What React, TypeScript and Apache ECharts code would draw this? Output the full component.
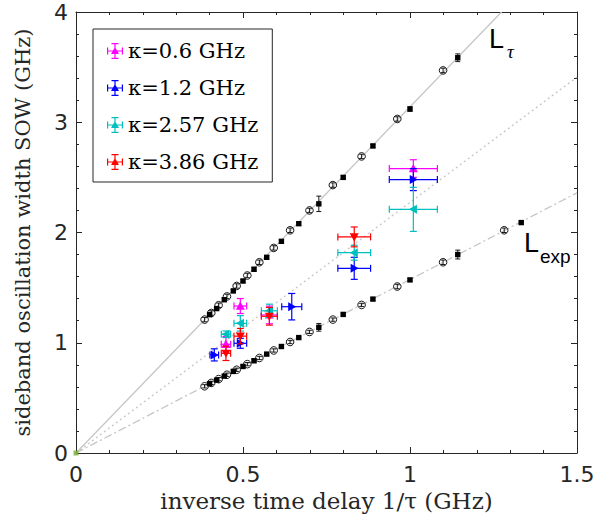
import React, { useEffect, useRef } from "react";
import * as echarts from "echarts";

// ---- reference lines (endpoints) ----
const lineTauX = [0, 1.274];
const lineTauY = [0, 4];
const lineMidX = [0, 1.5];
const lineMidY = [0, 3.41];
const lineExpX = [0, 1.5];
const lineExpY = [0, 2.36];

// ---- black data on L_tau ----
const tauCircX = [0.385, 0.405, 0.427, 0.452, 0.481, 0.513, 0.549, 0.592, 0.641, 0.699, 0.769, 0.855, 0.962, 1.099];
const tauCircY = [1.21, 1.27, 1.34, 1.42, 1.515, 1.61, 1.73, 1.86, 2.02, 2.2, 2.43, 2.69, 3.03, 3.47];
const tauCircErr = [0.02, 0.02, 0.02, 0.02, 0.02, 0.02, 0.02, 0.02, 0.02, 0.02, 0.02, 0.02, 0.02, 0.02];
const tauSqX = [0.4, 0.421, 0.444, 0.471, 0.5, 0.533, 0.571, 0.615, 0.667, 0.727, 0.8, 0.889, 1.0, 1.143];
const tauSqY = [1.255, 1.31, 1.39, 1.47, 1.56, 1.666, 1.775, 1.92, 2.08, 2.26, 2.5, 2.785, 3.12, 3.585];
const tauSqErr = [0.015, 0.015, 0.015, 0.015, 0.015, 0.015, 0.015, 0.015, 0.015, 0.07, 0.015, 0.015, 0.02, 0.035];

// ---- black data on L_exp ----
const expCircX = [0.385, 0.405, 0.427, 0.452, 0.481, 0.513, 0.549, 0.592, 0.641, 0.699, 0.769, 0.855, 0.962, 1.099, 1.282];
const expCircY = [0.605, 0.636, 0.67, 0.71, 0.755, 0.806, 0.862, 0.93, 1.007, 1.098, 1.21, 1.343, 1.51, 1.73, 2.02];
const expCircErr = [0.015, 0.015, 0.015, 0.015, 0.015, 0.015, 0.015, 0.015, 0.015, 0.015, 0.015, 0.015, 0.02, 0.02, 0.02];
const expSqX = [0.4, 0.421, 0.444, 0.471, 0.5, 0.533, 0.571, 0.615, 0.667, 0.727, 0.8, 0.889, 1.0, 1.143, 1.333];
const expSqY = [0.628, 0.661, 0.697, 0.74, 0.785, 0.837, 0.897, 0.966, 1.047, 1.14, 1.257, 1.396, 1.57, 1.8, 2.09];
const expSqErr = [0.012, 0.012, 0.012, 0.012, 0.012, 0.012, 0.012, 0.012, 0.012, 0.035, 0.012, 0.012, 0.012, 0.04, 0.012];

// ---- coloured series (kappa) ----
const k06X = [0.449, 0.492, 0.579, 1.01];
const k06Y = [0.986, 1.333, 1.252, 2.58];
const k06Ex = [0.014, 0.019, 0.024, 0.072];
const k06Ey = [0.07, 0.068, 0.08, 0.08];

const k12X = [0.414, 0.492, 0.646, 0.833, 1.01];
const k12Y = [0.89, 0.995, 1.327, 1.675, 2.48];
const k12Ex = [0.013, 0.019, 0.03, 0.049, 0.072];
const k12Ey = [0.055, 0.045, 0.12, 0.1, 0.1];

const k257X = [0.449, 0.492, 0.579, 0.833, 1.01];
const k257Y = [1.077, 1.176, 1.29, 1.817, 2.21];
const k257Ex = [0.014, 0.019, 0.024, 0.049, 0.072];
const k257Ey = [0.03, 0.07, 0.06, 0.068, 0.2];

const k386X = [0.449, 0.492, 0.579, 0.833];
const k386Y = [0.904, 1.06, 1.24, 1.96];
const k386Ex = [0.014, 0.019, 0.024, 0.049];
const k386Ey = [0.065, 0.07, 0.08, 0.09];

const seriesNames = ["κ=0.6 GHz", "κ=1.2 GHz", "κ=2.57 GHz", "κ=3.86 GHz"];
const seriesColors = ["#ff00ff", "#0000ff", "#00bfbf", "#ff0000"];
const seriesShapes = ["up", "right", "left", "down"];

const xTicks = [0, 0.5, 1, 1.5];
const yTicks = [0, 1, 2, 3, 4];

const AX = "#262626";
const LINE = "#c6c6c6";

function zip4(a: number[], b: number[], c: number[], d: number[]) {
  return a.map((v, i) => [v, b[i], c[i], d[i]]);
}

function triPoints(shape: string, cx: number, cy: number, r: number) {
  if (shape === "up") return [[cx, cy - r], [cx + r, cy + r * 0.8], [cx - r, cy + r * 0.8]];
  if (shape === "down") return [[cx, cy + r], [cx + r, cy - r * 0.8], [cx - r, cy - r * 0.8]];
  if (shape === "right") return [[cx + r, cy], [cx - r * 0.8, cy - r], [cx - r * 0.8, cy + r]];
  return [[cx - r, cy], [cx + r * 0.8, cy - r], [cx + r * 0.8, cy + r]];
}

function makeRender(marker: string, color: string, cap: number, lw: number) {
  return (params: any, api: any) => {
    const x = api.value(0);
    const y = api.value(1);
    const ex = api.value(2);
    const ey = api.value(3);
    const c = api.coord([x, y]);
    const l = api.coord([x - ex, y]);
    const r = api.coord([x + ex, y]);
    const t = api.coord([x, y + ey]);
    const b = api.coord([x, y - ey]);
    const st = { stroke: color, lineWidth: lw };
    const children: any[] = [
      { type: "line", shape: { x1: t[0], y1: t[1], x2: b[0], y2: b[1] }, style: st },
      { type: "line", shape: { x1: t[0] - cap, y1: t[1], x2: t[0] + cap, y2: t[1] }, style: st },
      { type: "line", shape: { x1: b[0] - cap, y1: b[1], x2: b[0] + cap, y2: b[1] }, style: st },
    ];
    if (ex > 0) {
      children.push(
        { type: "line", shape: { x1: l[0], y1: l[1], x2: r[0], y2: r[1] }, style: st },
        { type: "line", shape: { x1: l[0], y1: l[1] - cap, x2: l[0], y2: l[1] + cap }, style: st },
        { type: "line", shape: { x1: r[0], y1: r[1] - cap, x2: r[0], y2: r[1] + cap }, style: st }
      );
    }
    if (marker === "circle") {
      children.push({ type: "circle", shape: { cx: c[0], cy: c[1], r: 3.8 }, style: { fill: "none", stroke: "#000", lineWidth: 0.9 } });
    } else if (marker === "square") {
      children.push({ type: "rect", shape: { x: c[0] - 2.7, y: c[1] - 2.7, width: 5.4, height: 5.4 }, style: { fill: "#000" } });
    } else {
      children.push({ type: "polygon", shape: { points: triPoints(marker, c[0], c[1], 4.5) }, style: { fill: color } });
    }
    return { type: "group", children };
  };
}

const legendIcon =
  "path://M7.4,0h1.2v16h-1.2z M4.5,0h7v1.2h-7z M4.5,14.8h7v1.2h-7z M0,7.4h16v1.2h-16z M0,4.5h1.2v7h-1.2z M14.8,4.5h1.2v7h-1.2z M8,4L12,11L4,11z";

export default function App() {
  const ref = useRef<HTMLDivElement>(null);
  useEffect(() => {
    if (!ref.current) return;
    const chart = echarts.init(ref.current, null, { renderer: "svg" });
    const colored = [
      zip4(k06X, k06Y, k06Ex, k06Ey),
      zip4(k12X, k12Y, k12Ex, k12Ey),
      zip4(k257X, k257Y, k257Ex, k257Ey),
      zip4(k386X, k386Y, k386Ex, k386Ey),
    ];
    const blackSets = [
      { data: zip4(tauCircX, tauCircY, tauCircX.map(() => 0), tauCircErr), m: "circle" },
      { data: zip4(tauSqX, tauSqY, tauSqX.map(() => 0), tauSqErr), m: "square" },
      { data: zip4(expCircX, expCircY, expCircX.map(() => 0), expCircErr), m: "circle" },
      { data: zip4(expSqX, expSqY, expSqX.map(() => 0), expSqErr), m: "square" },
    ];
    const axisCommon = {
      type: "value" as const,
      axisLine: { show: true, onZero: false, lineStyle: { color: AX, width: 1 } },
      axisTick: { show: true, inside: true, length: 6, lineStyle: { color: AX } },
      minorTick: { show: true, splitNumber: 5, length: 3, lineStyle: { color: AX } },
      splitLine: { show: false },
      minorSplitLine: { show: false },
    };
    const option: any = {
      animation: false,
      backgroundColor: "#fff",
      grid: { left: 76, right: 25, top: 12, bottom: 63, containLabel: false, outerBoundsMode: "none" },
      legend: {
        orient: "vertical",
        left: 93,
        top: 29,
        padding: [11, 14, 9, 14],
        itemGap: 15,
        itemWidth: 16,
        itemHeight: 16,
        borderColor: AX,
        borderWidth: 1,
        backgroundColor: "#fff",
        data: seriesNames.map((n) => ({ name: n, icon: legendIcon })),
        textStyle: { fontFamily: "DejaVu Serif", fontSize: 21, color: "#000", lineHeight: 22 },
      },
      xAxis: [
        {
          ...axisCommon,
          min: 0,
          max: 1.5,
          interval: 0.5,
          position: "bottom",
          axisLabel: {
            fontFamily: "DejaVu Sans",
            fontSize: 22,
            color: AX,
            margin: 10,
            formatter: (v: number) => (xTicks.includes(v) ? String(v) : ""),
          },
          name: "inverse time delay 1/τ (GHz)",
          nameLocation: "middle",
          nameGap: 32,
          nameTextStyle: { fontFamily: "DejaVu Serif", fontSize: 23, color: AX },
        },
        { ...axisCommon, min: 0, max: 1.5, interval: 0.5, position: "top", axisLabel: { show: false } },
      ],
      yAxis: [
        {
          ...axisCommon,
          min: 0,
          max: 4,
          interval: 1,
          position: "left",
          axisLabel: {
            fontFamily: "DejaVu Sans",
            fontSize: 22,
            color: AX,
            margin: 8,
            formatter: (v: number) => (yTicks.includes(v) ? String(v) : ""),
          },
          name: "sideband oscillation width SOW (GHz)",
          nameLocation: "middle",
          nameGap: 43,
          nameRotate: 90,
          nameTextStyle: { fontFamily: "DejaVu Serif", fontSize: 21, color: AX },
        },
        { ...axisCommon, min: 0, max: 4, interval: 1, position: "right", axisLabel: { show: false } },
      ],
      graphic: [
        { type: "text", left: 489, top: 25, style: { text: "L", font: "27px 'Liberation Sans'", fill: "#000" } },
        { type: "text", left: 507, top: 42, style: { text: "τ", font: "italic 19px 'Liberation Serif'", fill: "#000" } },
        { type: "text", left: 524, top: 229, style: { text: "L", font: "27px 'Liberation Sans'", fill: "#000" } },
        { type: "text", left: 540, top: 247, style: { text: "exp", font: "19px 'Liberation Sans'", fill: "#000" } },
      ],
      series: [
        {
          type: "line",
          name: "Ltau",
          data: lineTauX.map((x, i) => [x, lineTauY[i]]),
          showSymbol: false,
          lineStyle: { color: LINE, width: 1.3, type: "solid" },
          silent: true,
          z: 1,
        },
        {
          type: "line",
          name: "Lmid",
          data: lineMidX.map((x, i) => [x, lineMidY[i]]),
          showSymbol: false,
          lineStyle: { color: LINE, width: 1.3, type: [2, 3] },
          silent: true,
          z: 1,
        },
        {
          type: "line",
          name: "Lexp",
          data: lineExpX.map((x, i) => [x, lineExpY[i]]),
          showSymbol: false,
          lineStyle: { color: LINE, width: 1.3, type: [8, 3, 2, 3] },
          silent: true,
          z: 1,
        },
        {
          type: "scatter",
          name: "origin",
          data: [[0, 0]],
          symbol: "rect",
          symbolSize: 5,
          itemStyle: { color: "#77ac30" },
          clip: false,
          z: 3,
        },
        ...blackSets.map((s, i) => ({
          type: "custom",
          name: "black" + i,
          data: s.data,
          renderItem: makeRender(s.m, "#000", 2.5, 0.9),
          z: 2,
        })),
        ...colored.map((d, i) => ({
          type: "custom",
          name: seriesNames[i],
          data: d,
          itemStyle: { color: seriesColors[i] },
          renderItem: makeRender(seriesShapes[i], seriesColors[i], 3.5, 1.2),
          z: 4,
        })),
      ],
    };
    chart.setOption(option);
    return () => chart.dispose();
  }, []);
  return <div ref={ref} style={{ position: "absolute", left: 0, top: 0, width: 602, height: 516 }} />;
}
